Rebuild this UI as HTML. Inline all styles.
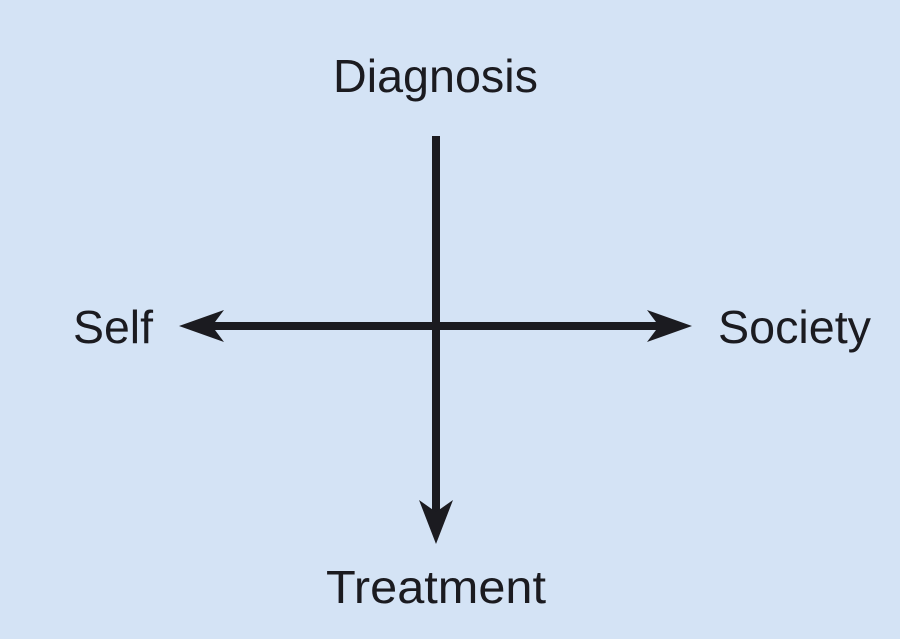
<!DOCTYPE html>
<html><head><meta charset="utf-8"><style>html,body{margin:0;padding:0;background:#d4e3f5;}svg{display:block}</style></head>
<body>
<svg width="900" height="639" viewBox="0 0 900 639" xmlns="http://www.w3.org/2000/svg">
<rect width="900" height="639" fill="#d4e3f5"/>
<g fill="#1b1b20" stroke="none">
<rect x="432" y="136" width="8" height="380"/>
<rect x="205" y="322" width="460" height="8"/>
<polygon points="179,326 224,310 212,326 224,342"/>
<polygon points="692,326 647,310 659,326 647,342"/>
<polygon points="436,544 419,500 436,512 453,500"/>
</g>
<g font-family="Liberation Sans, sans-serif" font-size="46" fill="#1b1b20">
<text x="333" y="92" textLength="205" lengthAdjust="spacingAndGlyphs">Diagnosis</text>
<text x="73" y="343" textLength="80" lengthAdjust="spacingAndGlyphs">Self</text>
<text x="718" y="343" textLength="153" lengthAdjust="spacingAndGlyphs">Society</text>
<text x="326" y="603" textLength="220" lengthAdjust="spacingAndGlyphs">Treatment</text>
</g>
</svg>
</body></html>
